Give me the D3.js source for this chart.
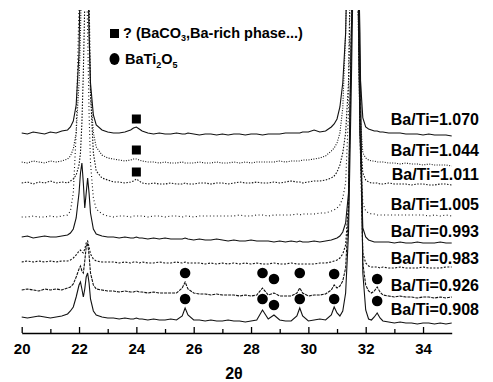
<!DOCTYPE html>
<meta charset="utf-8">
<style>
body { margin: 0; background: #fff; }
text { font-family: "Liberation Sans", Arial, sans-serif; font-weight: bold; fill: #000; }
.trace { fill: none; stroke: #111; stroke-width: 1.1; }
.axis path, .axis line { stroke: #000; stroke-width: 1.3; }
.axis text { font-size: 15px; font-family: "Liberation Sans", Arial, sans-serif; font-weight: bold; }
</style>
<body>
<script src="https://d3js.org/d3.v7.min.js"></script>
<script>

// 2theta grid (deg) shared by all patterns
var twoTheta = [
  20.0, 20.2, 20.4, 20.6, 20.8, 21.0, 21.2, 21.4, 21.6,
  21.7, 21.8, 21.9, 22.0, 22.05, 22.1, 22.15, 22.2, 22.25, 22.3, 22.35, 22.4, 22.5, 22.6, 22.8,
  23.0, 23.2, 23.4, 23.6, 23.8, 23.9, 24.0, 24.1, 24.2, 24.4, 24.6, 24.8,
  25.0, 25.2, 25.4, 25.6, 25.7, 25.8, 26.0, 26.2, 26.4, 26.6, 26.8,
  27.0, 27.2, 27.4, 27.6, 27.8, 28.0, 28.2, 28.4, 28.6, 28.8,
  29.0, 29.2, 29.4, 29.6, 29.7, 29.8, 30.0, 30.2, 30.4, 30.6, 30.8, 30.9,
  31.0, 31.1, 31.2, 31.3, 31.4, 31.5, 31.6, 31.7, 31.8, 31.9,
  32.0, 32.1, 32.2, 32.3, 32.4, 32.5, 32.6, 32.8,
  33.0, 33.2, 33.4, 33.6, 33.8, 34.0, 34.2, 34.4, 34.6, 34.8, 35.0
];

// sample names (Ba/Ti ratio), top to bottom
var ratios = ["1.070", "1.044", "1.011", "1.005", "0.993", "0.983", "0.926", "0.908"];

// stacked intensities (a.u., offset included)
var int1070 = [
  200, 199, 201, 200, 199, 201, 200, 202, 203,
  206, 212, 228, 280, 380, 430, 430, 420, 400, 380, 300, 250, 218, 208, 203,
  201, 200, 200, 201, 203, 205, 206, 204, 202, 200, 199, 200,
  199, 199, 200, 199, 199, 200, 199, 198, 199, 199, 198,
  199, 198, 199, 199, 198, 199, 199, 198, 199, 199,
  199, 200, 200, 200, 200, 201, 201, 203, 201, 202, 206, 209,
  214, 226, 250, 300, 430, 430, 430, 430, 260, 215,
  206, 204, 203, 202, 202, 201, 201, 200,
  200, 200, 199, 199, 199, 198, 199, 198, 198, 198, 197
];
var int1044 = [
  171, 170, 172, 171, 170, 172, 171, 172, 174,
  177, 184, 200, 250, 300, 380, 430, 430, 430, 380, 300, 240, 200, 186, 178,
  175, 174, 173, 172, 173, 174, 174, 173, 172, 171, 171, 170,
  171, 170, 170, 171, 170, 170, 170, 171, 170, 170, 171,
  170, 170, 171, 170, 171, 170, 171, 171, 171, 171,
  172, 171, 172, 172, 172, 173, 173, 174, 175, 177, 182, 185,
  190, 200, 225, 300, 430, 430, 430, 380, 220, 180,
  175, 173, 172, 172, 171, 171, 171, 170,
  170, 169, 170, 169, 169, 168, 169, 168, 168, 168, 167
];
var int1011 = [
  150, 151, 149, 151, 150, 152, 150, 151, 150,
  152, 154, 158, 168, 180, 210, 260, 330, 430, 430, 340, 240, 180, 162, 155,
  153, 151, 151, 150, 151, 152, 154, 152, 150, 149, 150, 149,
  149, 150, 149, 149, 150, 149, 149, 150, 150, 149, 150,
  150, 149, 150, 151, 150, 150, 151, 150, 150, 151,
  150, 151, 152, 151, 151, 150, 151, 152, 152, 153, 155, 157,
  161, 168, 180, 200, 250, 430, 430, 400, 200, 160,
  153, 151, 150, 150, 150, 149, 149, 150,
  149, 149, 149, 148, 149, 149, 148, 148, 149, 149, 148
];
var int1005 = [
  116, 116, 117, 116, 116, 117, 116, 117, 118,
  122, 140, 200, 330, 430, 430, 430, 430, 380, 300, 220, 170, 135, 124, 119,
  117, 116, 117, 117, 116, 117, 117, 117, 117, 116, 117, 117,
  116, 117, 117, 116, 117, 117, 116, 117, 117, 117, 117,
  117, 117, 117, 118, 117, 117, 118, 118, 117, 118,
  118, 118, 118, 119, 118, 119, 119, 119, 120, 120, 122, 123,
  125, 128, 135, 150, 220, 430, 430, 430, 200, 130,
  122, 120, 119, 119, 118, 118, 118, 118,
  118, 118, 118, 118, 118, 118, 117, 118, 117, 118, 117
];
var int0993 = [
  96, 97, 95, 96, 97, 96, 96, 97, 98,
  100, 104, 115, 140, 160, 170, 150, 125, 140, 155, 140, 120, 104, 99, 97,
  96, 96, 95, 96, 95, 95, 96, 95, 95, 94, 95, 94,
  95, 94, 94, 94, 95, 94, 93, 94, 93, 93, 94,
  93, 92, 93, 92, 92, 93, 92, 92, 92, 91,
  92, 91, 92, 91, 92, 91, 91, 92, 91, 92, 93, 94,
  95, 97, 101, 110, 140, 300, 430, 430, 200, 105,
  96, 93, 92, 91, 91, 91, 91, 91,
  90, 91, 90, 90, 91, 90, 90, 90, 91, 90, 90
];
var int0983 = [
  71, 72, 71, 72, 71, 72, 71, 72, 72,
  73, 75, 78, 82, 83, 81, 80, 84, 90, 92, 86, 79, 74, 72, 71,
  71, 71, 70, 71, 70, 71, 71, 70, 71, 70, 70, 71,
  70, 70, 71, 70, 71, 70, 70, 70, 69, 70, 69,
  70, 69, 70, 69, 70, 69, 70, 69, 69, 70,
  69, 69, 70, 69, 69, 69, 69, 69, 70, 70, 71, 72,
  73, 75, 79, 88, 130, 300, 430, 430, 200, 80,
  70, 67, 66, 66, 66, 65, 66, 65,
  65, 66, 65, 65, 65, 66, 65, 65, 65, 66, 66
];
var int0926 = [
  43, 44, 43, 42, 44, 43, 44, 43, 45,
  46, 49, 56, 64, 67, 62, 60, 72, 86, 90, 78, 60, 48, 44, 43,
  42, 42, 41, 42, 41, 41, 42, 41, 41, 40, 41, 40,
  40, 40, 40, 45, 51, 44, 40, 39, 39, 38, 39,
  38, 38, 38, 37, 38, 37, 38, 45, 38, 40,
  37, 37, 37, 40, 45, 40, 37, 38, 38, 39, 43, 48,
  45, 47, 52, 65, 120, 300, 430, 430, 250, 70,
  48, 42, 40, 42, 46, 41, 38, 37,
  36, 37, 36, 36, 35, 36, 36, 35, 36, 35, 36
];
var int0908 = [
  16, 15, 16, 17, 16, 15, 16, 17, 19,
  22, 26, 36, 48, 51, 44, 36, 44, 56, 60, 50, 34, 22, 18, 16,
  15, 15, 14, 15, 14, 14, 15, 14, 14, 13, 14, 13,
  13, 14, 13, 17, 25, 18, 13, 13, 12, 13, 12,
  12, 13, 12, 12, 11, 12, 13, 23, 14, 18,
  13, 12, 12, 17, 25, 17, 12, 13, 14, 13, 18, 26,
  20, 17, 22, 40, 100, 250, 430, 430, 300, 60,
  23, 14, 13, 16, 20, 15, 12, 11,
  10, 11, 10, 10, 9, 10, 10, 9, 10, 9, 10
];

// phase marks: squares (? BaCO3, Ba-rich) and circles (BaTi2O5)
var squareTheta = [24.0, 24.0, 24.0];
var squareInt = [214, 183, 161];
var circleTheta = [25.7, 28.4, 28.8, 29.7, 30.9, 32.4, 25.7, 28.4, 28.8, 29.7, 30.9, 32.4];
var circleInt = [60, 60, 54, 60, 59, 54, 34, 34, 28, 34, 34, 32];

var xTicks = [20, 22, 24, 26, 28, 30, 32, 34];
var xMinor = [21, 23, 25, 27, 29, 31, 33];

var series = [int1070, int1044, int1011, int1005, int0993, int0983, int0926, int0908];
var dashes = [null, "1,1.5", "1.5,1.5", "1,2.5", null, "2,1.5", "3,1", null];
var labelY = [119, 150, 174, 204, 231, 258, 285, 309];

var width = 493, height = 382;

var x = d3.scaleLinear().domain([20, 35]).range([21.7, 451.7]);
var y = d3.scaleLinear().domain([0, 330]).range([333, 3]);

var svg = d3.select("body").append("svg")
    .attr("width", width)
    .attr("height", height);

svg.append("clipPath").attr("id", "clip")
  .append("rect")
    .attr("x", 0).attr("y", 10)
    .attr("width", width).attr("height", 323);

var line = d3.line()
    .x(function(d) { return x(d[0]); })
    .y(function(d) { return y(d[1]); });

// patterns
svg.append("g").attr("clip-path", "url(#clip)")
  .selectAll("path")
    .data(series)
  .enter().append("path")
    .attr("class", "trace")
    .attr("stroke-dasharray", function(d, i) { return dashes[i]; })
    .attr("d", function(d) { return line(d3.zip(twoTheta, d)); });

// ratio labels
svg.selectAll(".ratio")
    .data(ratios)
  .enter().append("text")
    .attr("class", "ratio")
    .attr("x", 479)
    .attr("y", function(d, i) { return labelY[i]; })
    .attr("dy", "0.36em")
    .attr("text-anchor", "end")
    .style("font-size", "16px")
    .text(function(d) { return "Ba/Ti=" + d; });

// markers
svg.selectAll(".sq")
    .data(squareTheta)
  .enter().append("rect")
    .attr("class", "sq")
    .attr("x", function(d) { return x(d) - 4.5; })
    .attr("y", function(d, i) { return y(squareInt[i]) - 4.5; })
    .attr("width", 9).attr("height", 9);

svg.selectAll(".dot")
    .data(circleTheta)
  .enter().append("circle")
    .attr("class", "dot")
    .attr("cx", function(d) { return x(d); })
    .attr("cy", function(d, i) { return y(circleInt[i]); })
    .attr("r", 5.3);

// legend
svg.append("rect").attr("x", 110).attr("y", 29).attr("width", 9).attr("height", 9);
var t1 = svg.append("text").attr("x", 123).attr("y", 38).style("font-size", "14.5px");
t1.append("tspan").text("? (BaCO");
t1.append("tspan").attr("dy", 3).style("font-size", "9px").text("3");
t1.append("tspan").attr("dy", -3).text(",Ba-rich phase...)");

svg.append("ellipse").attr("cx", 114.5).attr("cy", 59).attr("rx", 5).attr("ry", 6);
var t2 = svg.append("text").attr("x", 125).attr("y", 64).style("font-size", "14.5px");
t2.append("tspan").text("BaTi");
t2.append("tspan").attr("dy", 4).style("font-size", "9px").text("2");
t2.append("tspan").attr("dy", -4).text("O");
t2.append("tspan").attr("dy", 4).style("font-size", "9px").text("5");

// x axis: major ticks labelled, minor ticks short
svg.append("g")
    .attr("class", "axis")
    .attr("transform", "translate(0,333)")
    .call(d3.axisBottom(x).tickValues(xTicks).tickSizeInner(-6).tickSizeOuter(0).tickPadding(10));

svg.append("g")
    .attr("class", "axis")
    .attr("transform", "translate(0,333)")
    .call(d3.axisBottom(x).tickValues(xMinor).tickSizeInner(-4).tickSizeOuter(0).tickFormat(""))
  .select(".domain").remove();

svg.append("text")
    .attr("x", 234)
    .attr("y", 379)
    .attr("text-anchor", "middle")
    .style("font-size", "16px")
    .text("2θ");

</script>
</body>
